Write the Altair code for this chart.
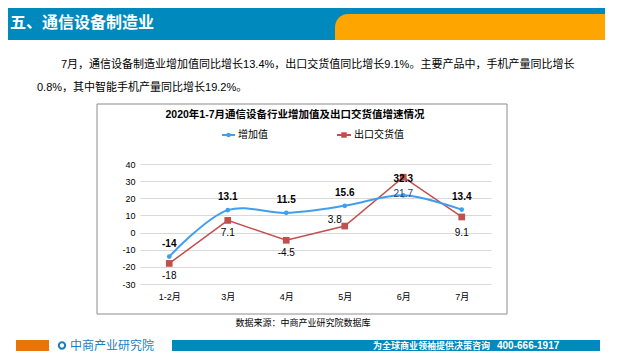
import altair as alt
import pandas as pd

# ---------------- data ----------------
months = ["1-2月", "3月", "4月", "5月", "6月", "7月"]
added_value = [-14, 13.1, 11.5, 15.6, 21.7, 13.4]
export_value = [-18, 7.1, -4.5, 3.8, 32.3, 9.1]
added_labels = ["-14", "13.1", "11.5", "15.6", "21.7", "13.4"]
export_labels = ["-18", "7.1", "-4.5", "3.8", "32.3", "9.1"]
series_names = ["增加值", "出口交货值"]
y_ticks = [-30, -20, -10, 0, 10, 20, 30, 40]

rows = []
for m, v, l in zip(months, added_value, added_labels):
    rows.append({"month": m, "series": series_names[0], "value": v, "label": l})
for m, v, l in zip(months, export_value, export_labels):
    rows.append({"month": m, "series": series_names[1], "value": v, "label": l})
df = pd.DataFrame(rows)

BLUE = "#3f9fef"
RED = "#c0504d"
CJK = "Liberation Sans, Noto Sans CJK SC"

# plot origin in page coordinates
OX, OY = 140, 164


def px(X):
    return X - OX


def py(Y):
    return Y - OY


one = alt.Data(values=[{"k": 0}])

x_enc = alt.X(
    "month:N",
    sort=months,
    scale=alt.Scale(type="point", padding=0.5),
    axis=alt.Axis(title=None, labelAngle=0, ticks=False, domain=False, grid=False,
                  labelFontSize=9, labelColor="#000", labelPadding=8, labelFont=CJK),
)
y_enc = alt.Y(
    "value:Q",
    scale=alt.Scale(domain=[-30, 40], nice=False, zero=False),
    axis=alt.Axis(title=None, values=y_ticks, domain=False, ticks=False,
                  gridColor="#d9d9d9", gridWidth=1, labelFontSize=9, labelColor="#000",
                  labelPadding=5, labelFont=CJK, labelExpr="'' + datum.value"),
)

base = alt.Chart(df).encode(x=x_enc, y=y_enc)
blue = base.transform_filter(alt.datum.series == series_names[0])
red = base.transform_filter(alt.datum.series == series_names[1])


def rect(x1, x2, y1, y2, color, **kw):
    return alt.Chart(one).mark_rect(color=color, **kw).encode(
        x=alt.value(px(x1)), x2=alt.value(px(x2)), y=alt.value(py(y1)), y2=alt.value(py(y2)))


def text(t, X, Y, size, color="#000", weight="normal", align="left", font=CJK):
    return alt.Chart(one).mark_text(text=t, align=align, baseline="middle", fontSize=size,
                                    fontWeight=weight, color=color, font=font).encode(
        x=alt.value(px(X)), y=alt.value(py(Y)))


layers = []
# header
layers.append(rect(0, 605, 0, 40, "#0089bd"))
layers.append(rect(335, 605, 14, 40, "#ffa500", cornerRadiusTopLeft=24))
layers.append(text("五、通信设备制造业", 10, 23, 16, color="white", weight="bold"))
# paragraph
layers.append(text("7月，通信设备制造业增加值同比增长13.4%，出口交货值同比增长9.1%。主要产品中，手机产量同比增长",
                   61, 65, 11))
layers.append(text("0.8%，其中智能手机产量同比增长19.2%。", 37, 88, 11))
# chart frame
layers.append(alt.Chart(one).mark_rect(fillOpacity=0, stroke="#8c8c8c", strokeWidth=1).encode(
    x=alt.value(px(97)), x2=alt.value(px(507)), y=alt.value(py(104)), y2=alt.value(py(314))))
layers.append(text("2020年1-7月通信设备行业增加值及出口交货值增速情况", 295, 115, 10.5,
                   weight="bold", align="center"))
# legend
layers.append(alt.Chart(one).mark_rule(color=BLUE, strokeWidth=2).encode(
    x=alt.value(px(222)), x2=alt.value(px(235)), y=alt.value(py(135))))
layers.append(alt.Chart(one).mark_point(filled=True, shape="circle", size=20, color=BLUE, opacity=1).encode(
    x=alt.value(px(228.5)), y=alt.value(py(135))))
layers.append(text(series_names[0], 238, 135, 10))
layers.append(alt.Chart(one).mark_rule(color=RED, strokeWidth=2).encode(
    x=alt.value(px(337)), x2=alt.value(px(351)), y=alt.value(py(135))))
layers.append(alt.Chart(one).mark_point(filled=True, shape="square", size=30, color=RED, opacity=1).encode(
    x=alt.value(px(344)), y=alt.value(py(135))))
layers.append(text(series_names[1], 354, 135, 10))

# data series
layers.append(red.mark_line(color=RED, strokeWidth=1.5))
layers.append(blue.mark_line(color=BLUE, strokeWidth=2, interpolate="catmull-rom"))
layers.append(red.mark_point(filled=True, shape="square", size=45, color=RED, opacity=1))
layers.append(blue.mark_point(filled=True, shape="circle", size=22, color=BLUE, opacity=1))

# data labels
lab_font = "Liberation Sans"
layers.append(blue.transform_filter(alt.datum.month != "6月").mark_text(
    dy=-13, fontSize=10, fontWeight="bold", color="#000", font=lab_font).encode(text="label:N"))
layers.append(blue.transform_filter(alt.datum.month == "6月").mark_text(
    dy=-1, fontSize=10, color="#1f3f7a", font=lab_font).encode(text="label:N"))
layers.append(red.transform_filter(
    (alt.datum.month != "5月") & (alt.datum.month != "6月") & (alt.datum.month != "7月")).mark_text(
    dy=13, fontSize=10, color="#000", font=lab_font).encode(text="label:N"))
layers.append(red.transform_filter(alt.datum.month == "7月").mark_text(
    dy=16, fontSize=10, color="#000", font=lab_font).encode(text="label:N"))
layers.append(red.transform_filter(alt.datum.month == "5月").mark_text(
    dx=-10, dy=-6, fontSize=10, color="#000", font=lab_font).encode(text="label:N"))
layers.append(red.transform_filter(alt.datum.month == "6月").mark_text(
    dy=2, fontSize=10, fontWeight="bold", color="#000", font=lab_font).encode(text="label:N"))

# source
layers.append(text("数据来源：中商产业研究院数据库", 303, 323, 9, align="center"))

# footer
layers.append(rect(16, 49, 340, 351, "#e8740c"))
layers.append(alt.Chart(one).mark_point(shape="circle", size=40, color="#1a7fc1", strokeWidth=2, opacity=1).encode(
    x=alt.value(px(62)), y=alt.value(py(345.5))))
layers.append(text("中商产业研究院", 70, 345.5, 12, color="#1a7fc1"))
layers.append(rect(172, 600, 340, 351, "#0089bd"))
layers.append(text("为全球商业领袖提供决策咨询", 373, 345.5, 9, color="white", weight="bold"))
layers.append(text("400-666-1917", 497, 345.5, 10, color="white", weight="bold"))

chart = alt.layer(*layers).properties(
    width=351,
    height=120,
    padding={"left": 132, "top": 156, "right": 141, "bottom": 68},
    autosize=alt.AutoSizeParams(type="none"),
).configure_view(stroke=None)

chart.save("out.html", embed_options={"renderer": "svg", "actions": False})
